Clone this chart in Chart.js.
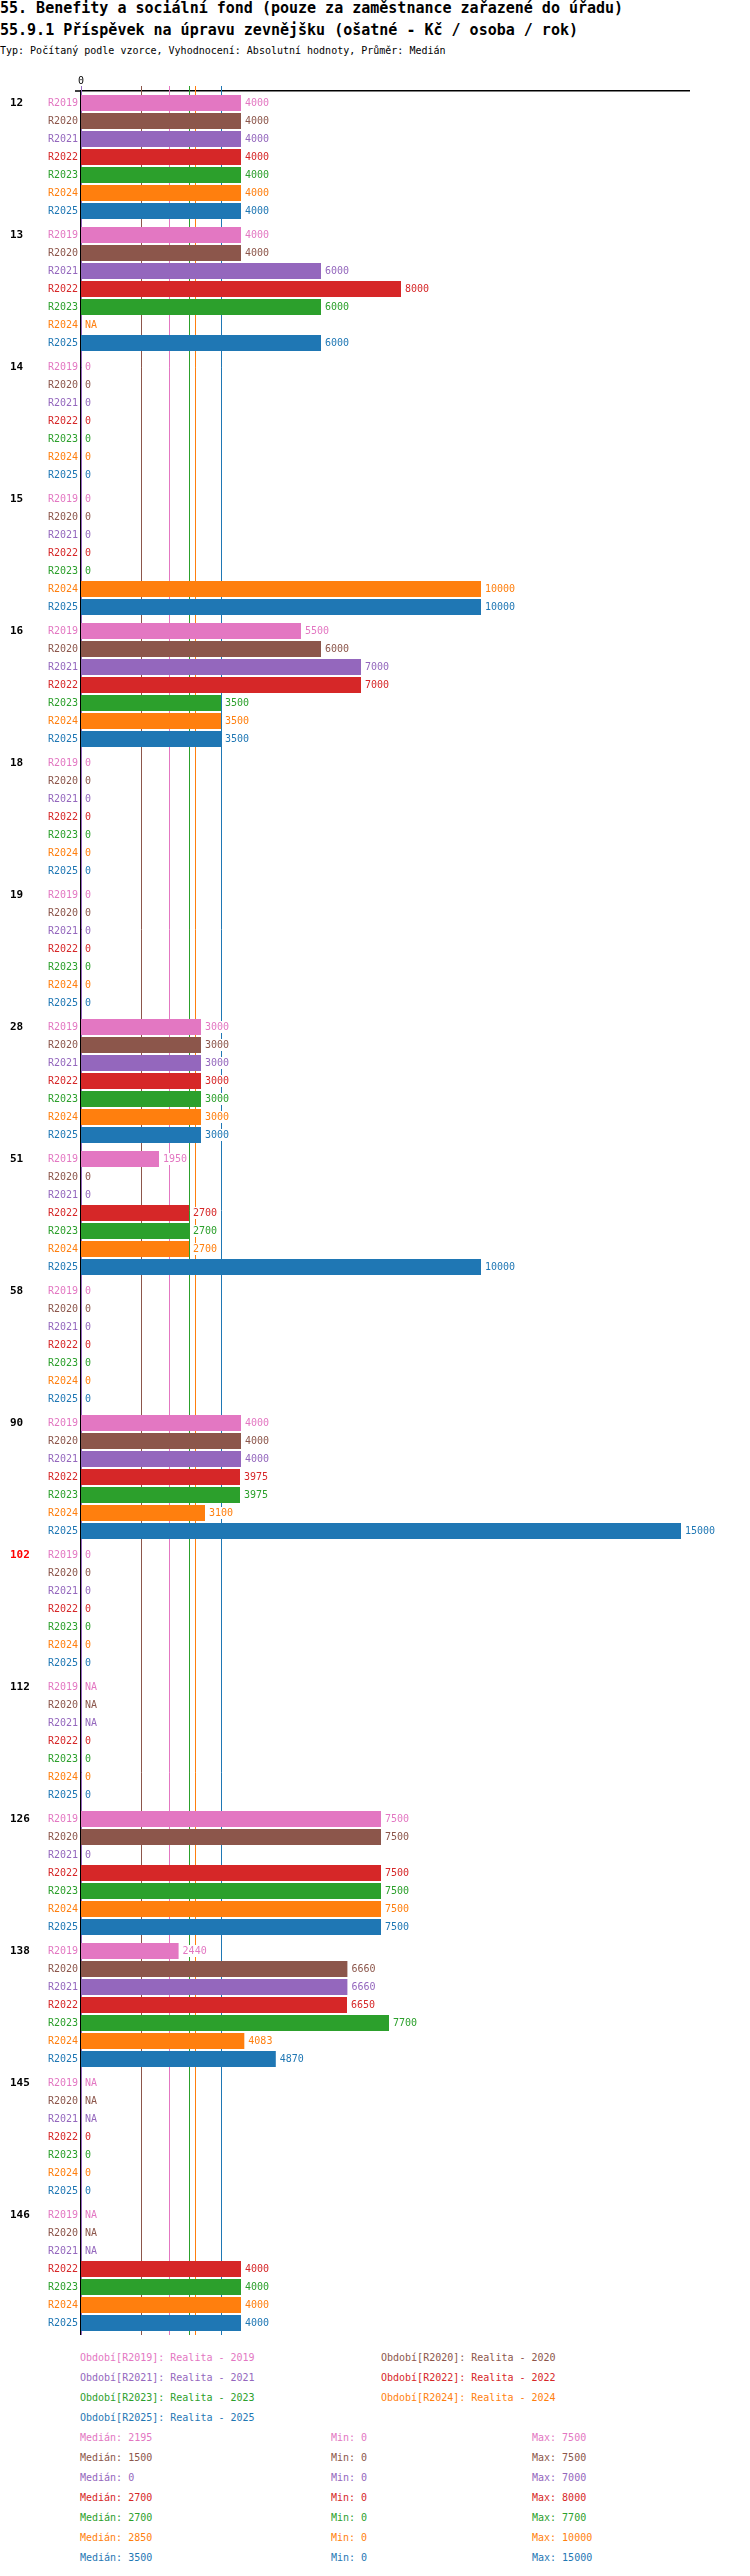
<!DOCTYPE html>
<html>
<head>
<meta charset="utf-8">
<script src="https://cdn.jsdelivr.net/npm/chart.js@4/dist/chart.umd.min.js"></script>
<style>
  body { margin: 0; background: #fff; font-family: 'DejaVu Sans Mono', monospace; }
  .t { position: absolute; left: 0; white-space: pre; color: #000; }
  .h1 { font-size: 15px; line-height: 17px; font-weight: bold; }
  .sm { font-size: 10px; line-height: 12px; }
  #wrap { position: absolute; left: 0; top: 72px; width: 750px; height: 2263px; }
</style>
</head>
<body>
<div class="t h1" style="top:0">55. Benefity a sociální fond (pouze za zaměstnance zařazené do úřadu)</div>
<div class="t h1" style="top:22px">55.9.1 Příspěvek na úpravu zevnějšku (ošatné - Kč / osoba / rok)</div>
<div class="t sm" style="top:45px">Typ: Počítaný podle vzorce, Vyhodnocení: Absolutní hodnoty, Průměr: Medián</div>
<div id="wrap"><canvas id="chart"></canvas></div>
<div id="legend"></div>
<script>
// categories (rows of the chart)
const groups = ['12', '13', '14', '15', '16', '18', '19', '28', '51', '58', '90', '102', '112', '126', '138', '145', '146'];
const periods = ['R2019', 'R2020', 'R2021', 'R2022', 'R2023', 'R2024', 'R2025'];
const colors = ['#e377c2', '#8c564b', '#9467bd', '#d62728', '#2ca02c', '#ff7f0e', '#1f77b4'];

// values per period (null = NA)
const r2019 = [4000, 4000, 0, 0, 5500, 0, 0, 3000, 1950, 0, 4000, 0, null, 7500, 2440, null, null];
const r2020 = [4000, 4000, 0, 0, 6000, 0, 0, 3000, 0, 0, 4000, 0, null, 7500, 6660, null, null];
const r2021 = [4000, 6000, 0, 0, 7000, 0, 0, 3000, 0, 0, 4000, 0, null, 0, 6660, null, null];
const r2022 = [4000, 8000, 0, 0, 7000, 0, 0, 3000, 2700, 0, 3975, 0, 0, 7500, 6650, 0, 4000];
const r2023 = [4000, 6000, 0, 0, 3500, 0, 0, 3000, 2700, 0, 3975, 0, 0, 7500, 7700, 0, 4000];
const r2024 = [4000, null, 0, 10000, 3500, 0, 0, 3000, 2700, 0, 3100, 0, 0, 7500, 4083, 0, 4000];
const r2025 = [4000, 6000, 0, 10000, 3500, 0, 0, 3000, 10000, 0, 15000, 0, 0, 7500, 4870, 0, 4000];
const series = [r2019, r2020, r2021, r2022, r2023, r2024, r2025];

// summary stats per period
const medians = [2195, 1500, 0, 2700, 2700, 2850, 3500];
const mins = [0, 0, 0, 0, 0, 0, 0];
const maxes = [7500, 7500, 7000, 8000, 7700, 10000, 15000];
const legendLabels = ['Období[R2019]: Realita - 2019', 'Období[R2020]: Realita - 2020',
  'Období[R2021]: Realita - 2021', 'Období[R2022]: Realita - 2022',
  'Období[R2023]: Realita - 2023', 'Období[R2024]: Realita - 2024',
  'Období[R2025]: Realita - 2025'];
const redGroups = ['102'];

const FONT = "'DejaVu Sans Mono', monospace";

// median lines behind the bars, row labels and value labels on top
const overlay = {
  id: 'overlay',
  beforeDatasetsDraw(chart) {
    const ctx = chart.ctx, area = chart.chartArea, xs = chart.scales.x;
    ctx.save();
    ctx.lineWidth = 1;
    [2, 1, 0, 3, 4, 5, 6].forEach(i => {
      const x = Math.round(xs.getPixelForValue(medians[i])) + 0.5;
      ctx.strokeStyle = colors[i];
      ctx.beginPath();
      ctx.moveTo(x, area.top - 5);
      ctx.lineTo(x, area.bottom);
      ctx.stroke();
    });
    // small left extension of the top axis line
    ctx.strokeStyle = '#000';
    ctx.lineWidth = 1.5;
    ctx.beginPath();
    ctx.moveTo(area.left - 6, area.top);
    ctx.lineTo(area.left, area.top);
    ctx.stroke();
    ctx.restore();
  },
  afterDatasetsDraw(chart) {
    const ctx = chart.ctx, area = chart.chartArea;
    ctx.save();
    ctx.textBaseline = 'middle';
    chart.data.datasets.forEach((ds, i) => {
      const meta = chart.getDatasetMeta(i);
      meta.data.forEach((bar, j) => {
        const y = bar.y;
        // period label
        ctx.font = '10px ' + FONT;
        ctx.textAlign = 'right';
        ctx.fillStyle = colors[i];
        ctx.fillText(periods[i], area.left - 3, y);
        // value label
        const v = ds.data[j];
        const txt = v === null ? 'NA' : String(v);
        const x0 = (v === null || v === 0) ? area.left + 4 : bar.x + 4;
        const w = ctx.measureText(txt).width;
        ctx.fillStyle = '#fff';
        ctx.fillRect(x0 - 1, y - 6, w + 2, 12);
        ctx.textAlign = 'left';
        ctx.fillStyle = colors[i];
        ctx.fillText(txt, x0, y);
        // group label next to the first bar
        if (i === 0) {
          ctx.font = 'bold 11px ' + FONT;
          ctx.fillStyle = redGroups.includes(groups[j]) ? '#ff0000' : '#000';
          ctx.fillText(groups[j], 10, y);
        }
      });
    });
    ctx.restore();
  }
};

new Chart(document.getElementById('chart'), {
  type: 'bar',
  data: {
    labels: groups,
    datasets: series.map((d, i) => ({
      label: periods[i],
      data: d,
      backgroundColor: colors[i],
      borderWidth: 0,
      categoryPercentage: 126 / 132,
      barPercentage: 16 / 18
    }))
  },
  options: {
    indexAxis: 'y',
    responsive: true,
    maintainAspectRatio: false,
    animation: false,
    layout: { padding: { left: 0, right: 61, top: 0, bottom: 0 } },
    plugins: {
      legend: { display: false },
      tooltip: { enabled: false }
    },
    scales: {
      x: {
        position: 'top',
        min: 0,
        max: 15200,
        afterBuildTicks: s => { s.ticks = [{ value: 0 }]; },
        afterFit: s => { s.height = 19; },
        ticks: { font: { family: FONT, size: 10 }, color: '#000', padding: 4 },
        grid: { display: false, drawTicks: false },
        border: { display: true, color: '#000', width: 1.5 }
      },
      y: {
        afterFit: s => { s.width = 81; },
        ticks: { display: false },
        grid: { display: false, drawTicks: false },
        border: { display: true, color: '#000', width: 2 }
      }
    }
  },
  plugins: [overlay]
});

// legend and stats as page text
const legend = document.getElementById('legend');
function addText(txt, x, yc, color) {
  const d = document.createElement('div');
  d.className = 't sm';
  d.style.left = x + 'px';
  d.style.top = (yc - 6) + 'px';
  d.style.color = color;
  d.textContent = txt;
  legend.appendChild(d);
}
legendLabels.forEach((l, i) => {
  addText(l, i % 2 === 0 ? 80 : 381, 2358 + Math.floor(i / 2) * 20, colors[i]);
});
periods.forEach((p, i) => {
  const yc = 2438 + i * 20;
  addText('Medián: ' + medians[i], 80, yc, colors[i]);
  addText('Min: ' + mins[i], 331, yc, colors[i]);
  addText('Max: ' + maxes[i], 532, yc, colors[i]);
});
</script>
</body>
</html>
